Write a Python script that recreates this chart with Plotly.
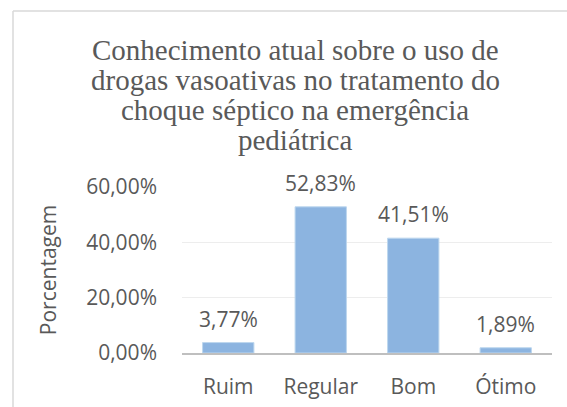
import plotly.graph_objects as go

categories = ["Ruim", "Regular", "Bom", "Ótimo"]
values = [0.0377, 0.5283, 0.4151, 0.0189]
title_lines = [
    "Conhecimento atual sobre o uso de",
    "drogas vasoativas no tratamento do",
    "choque séptico na emergência",
    "pediátrica",
]
y_ticks = [0, 0.2, 0.4, 0.6]
y_title = "Porcentagem"

W, H = 567, 407
L, T = 182, 187
R = W - 552
B = H - 353
PW, PH = W - L - R, H - T - B

gray = "#595959"
sans = "Open Sans"
fs = 21

fig = go.Figure()
fig.add_trace(go.Bar(
    x=categories, y=values,
    marker=dict(color="#8CB4E0", line=dict(color="#BDD7EE", width=1)),
    hoverinfo="skip",
))

# data labels
for c, v in zip(categories, values):
    fig.add_annotation(
        x=c, y=v, xref="x", yref="y",
        text=f"{v*100:.2f}%".replace(".", ","),
        showarrow=False, yanchor="middle", yshift=24,
        font=dict(family=sans, size=fs, color=gray),
    )

# title lines (pixel centres converted to paper coords)
title_center_x = (295 - L) / PW
line_centers_px = [50, 80, 110, 140]
for line, cy in zip(title_lines, line_centers_px):
    fig.add_annotation(
        x=title_center_x, y=(H - B - cy) / PH, xref="paper", yref="paper",
        text=line, showarrow=False, xanchor="center", yanchor="middle",
        font=dict(family="Liberation Serif", size=29, color=gray),
    )

# chart-area border: top and left edges only, ending at the figure edges
bx = (13 - L) / PW
by = (H - B - 11) / PH
x_right = (W - L) / PW
y_bottom = -B / PH
border = dict(color="#D9D9D9", width=1.5)
fig.add_shape(type="line", xref="paper", yref="paper", layer="below",
              x0=bx, x1=x_right, y0=by, y1=by, line=border)
fig.add_shape(type="line", xref="paper", yref="paper", layer="below",
              x0=bx, x1=bx, y0=y_bottom, y1=by, line=border)

fig.update_layout(
    width=W, height=H,
    margin=dict(l=L, r=R, t=T, b=B, pad=0, autoexpand=False),
    paper_bgcolor="white", plot_bgcolor="white",
    separators=",.",
    showlegend=False,
    bargap=0.445,
    font=dict(family=sans, size=fs, color=gray),
)
fig.update_xaxes(
    automargin=False,
    showgrid=False, showline=True, linecolor="#BFBFBF", linewidth=2,
    ticks="", ticklabelstandoff=14,
    tickfont=dict(family=sans, size=fs, color=gray),
    fixedrange=True,
)
fig.update_yaxes(
    automargin=False,
    range=[0, 0.6], tickvals=y_ticks, tickformat=".2%",
    showgrid=True, gridcolor="#EDEDED", gridwidth=1,
    zeroline=False, showline=False, ticks="", ticklabelstandoff=24,
    tickfont=dict(family=sans, size=fs, color=gray),
    title=dict(text=y_title, standoff=23, font=dict(family=sans, size=fs, color=gray)),
    fixedrange=True,
)

fig.write_html(
    "out.html",
    config={"displayModeBar": False, "responsive": False},
    post_script="document.body.style.margin='0';document.body.style.overflow='hidden';",
)
